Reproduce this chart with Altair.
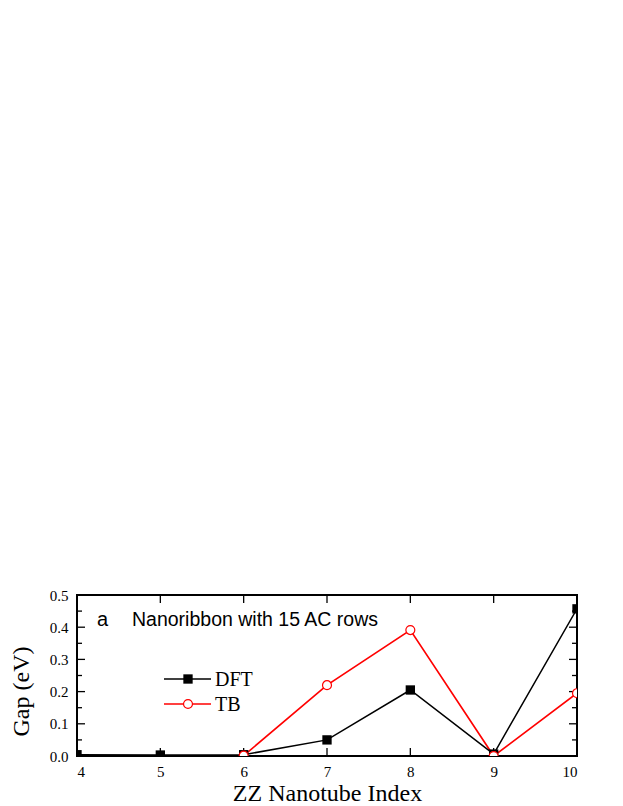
import altair as alt
import pandas as pd

# ---- data ----
index = [4, 5, 6, 7, 8, 9, 10]
dft_gap = [0.004, 0.003, 0.004, 0.050, 0.205, 0.006, 0.457]
tb_index = [6, 7, 8, 9, 10]
tb_gap = [0.001, 0.220, 0.391, 0.000, 0.195]
series_names = ["DFT", "TB"]
x_tick_values = [4, 5, 6, 7, 8, 9, 10]
y_tick_values = [0.0, 0.1, 0.2, 0.3, 0.4, 0.5]
y_major_inner = [0.1, 0.2, 0.3, 0.4]
y_minor_inner = [0.05, 0.15, 0.25, 0.35, 0.45]
x_inner = [5, 6, 7, 8, 9]
annotation = ["a", "Nanoribbon with 15 AC rows"]

W, H = 500, 161
SERIF = "Liberation Serif"
SANS = "Liberation Sans"

xs = alt.Scale(domain=[4, 10], nice=False, zero=False)
ys = alt.Scale(domain=[0, 0.5], nice=False)

xaxis = alt.Axis(values=x_tick_values, format="d", ticks=False, domain=False, grid=False,
                 labelFont=SERIF, labelFontSize=15, labelColor="black", labelPadding=8,
                 title="ZZ Nanotube Index", titleFont=SERIF, titleFontSize=24,
                 titleFontWeight="normal", titleColor="black", titlePadding=2)
yaxis = alt.Axis(values=y_tick_values, format=".1f", ticks=False, domain=False, grid=False,
                 labelFont=SERIF, labelFontSize=15, labelColor="black", labelPadding=9,
                 title="Gap (eV)", titleFont=SERIF, titleFontSize=24,
                 titleFontWeight="normal", titleColor="black",
                 titleAngle=270, titleX=-49, titleY=96, titleAlign="center",
                 titleBaseline="alphabetic")

X = lambda f: alt.X(f, scale=xs, axis=xaxis, title="ZZ Nanotube Index")
Y = lambda f: alt.Y(f, scale=ys, axis=yaxis, title="Gap (eV)")

dft_df = pd.DataFrame({"idx": index, "gap": dft_gap})
tb_df = pd.DataFrame({"idx": tb_index, "gap": tb_gap})

dft_line = alt.Chart(dft_df).mark_line(color="black", strokeWidth=1.5, clip=True).encode(
    x=X("idx:Q"), y=Y("gap:Q"))
dft_pts = alt.Chart(dft_df).mark_point(shape="square", filled=True, color="black",
                                       size=87, opacity=1, clip=True).encode(
    x=X("idx:Q"), y=Y("gap:Q"))
tb_line = alt.Chart(tb_df).mark_line(color="#ff0000", strokeWidth=1.7, clip=True).encode(
    x=X("idx:Q"), y=Y("gap:Q"))
tb_pts = alt.Chart(tb_df).mark_point(shape="circle", filled=True, fill="white",
                                     stroke="#ff0000", strokeWidth=1.2, size=80,
                                     opacity=1, clip=True).encode(
    x=X("idx:Q"), y=Y("gap:Q"))

# inward ticks on all four sides
ymaj = pd.DataFrame({"v": y_major_inner})
ymin = pd.DataFrame({"v": y_minor_inner})
xin = pd.DataFrame({"v": x_inner})
tick_layers = []
for df, ln in [(ymaj, 8), (ymin, 5)]:
    tick_layers.append(alt.Chart(df).mark_rule(color="black", strokeWidth=1.3).encode(
        y=Y("v:Q"), x=alt.value(0), x2=alt.value(ln)))
    tick_layers.append(alt.Chart(df).mark_rule(color="black", strokeWidth=1.3).encode(
        y=Y("v:Q"), x=alt.value(W - ln), x2=alt.value(W)))
tick_layers.append(alt.Chart(xin).mark_rule(color="black", strokeWidth=1.3).encode(
    x=X("v:Q"), y=alt.value(H - 8), y2=alt.value(H)))
tick_layers.append(alt.Chart(xin).mark_rule(color="black", strokeWidth=1.3).encode(
    x=X("v:Q"), y=alt.value(0), y2=alt.value(8)))

# legend drawn inside the plot
leg1 = pd.DataFrame({"s": [series_names[0]]})
leg2 = pd.DataFrame({"s": [series_names[1]]})
legend = [
    alt.Chart(leg1).mark_rule(color="black", strokeWidth=1.5).encode(
        x=alt.value(87), x2=alt.value(134), y=alt.value(84)),
    alt.Chart(leg1).mark_point(shape="square", filled=True, color="black", size=87, opacity=1).encode(
        x=alt.value(111), y=alt.value(84)),
    alt.Chart(leg1).mark_text(font=SERIF, fontSize=20, align="left", baseline="middle",
                              color="black").encode(
        x=alt.value(138), y=alt.value(85), text="s:N"),
    alt.Chart(leg2).mark_rule(color="#ff0000", strokeWidth=1.7).encode(
        x=alt.value(87), x2=alt.value(134), y=alt.value(109)),
    alt.Chart(leg2).mark_point(shape="circle", filled=True, fill="white", stroke="#ff0000",
                               strokeWidth=1.2, size=80, opacity=1).encode(
        x=alt.value(111), y=alt.value(109)),
    alt.Chart(leg2).mark_text(font=SERIF, fontSize=20, align="left", baseline="middle",
                              color="black").encode(
        x=alt.value(138), y=alt.value(110), text="s:N"),
]

ann_a = pd.DataFrame({"t": [annotation[0]]})
ann_b = pd.DataFrame({"t": [annotation[1]]})
ann = [
    alt.Chart(ann_a).mark_text(font=SANS, fontSize=20, align="left", baseline="alphabetic",
                               color="black").encode(x=alt.value(20), y=alt.value(31), text="t:N"),
    alt.Chart(ann_b).mark_text(font=SANS, fontSize=19.5, align="left", baseline="alphabetic",
                               color="black").encode(x=alt.value(55), y=alt.value(31), text="t:N"),
]

chart = alt.layer(
    tb_line, dft_line, *tick_layers, dft_pts, tb_pts, *legend, *ann
).properties(
    width=W, height=H,
    autosize=alt.AutoSizeParams(type="none"),
    padding={"left": 69, "top": 587, "right": 30, "bottom": 50},
).configure(
    background="white",
    view=alt.ViewConfig(stroke="black", strokeWidth=2),
)

chart.save("out.html", embed_options={"renderer": "svg", "actions": False})
